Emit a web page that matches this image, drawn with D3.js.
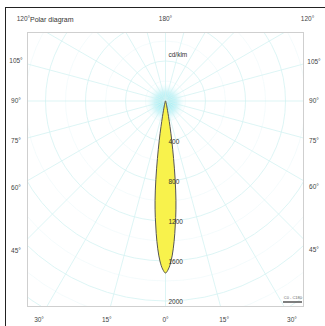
<!DOCTYPE html>
<html><head><meta charset="utf-8">
<script src="https://cdn.jsdelivr.net/npm/d3@7"></script>
<style>html,body{margin:0;padding:0;background:#fff;overflow:hidden}text{font-family:"Liberation Sans",Arial,sans-serif}</style>
</head><body><svg id="c" width="325" height="326"></svg>
<script>
// ---- data ----
const title = "Polar diagram";
const unitLabel = "cd/klm";
const legendLabel = "C0 - C180";
// beam angle (deg from nadir, signed) and luminous intensity (cd/klm)
const beamAngles    = [-180,-90,-60,-45,-30,-20,-16,-14,-12,-11,-10,-9,-8,-7,-6,-5,-4,-3,-2,-1,0,1,2,3,4,5,6,7,8,9,10,11,12,14,16,20,30,45,60,90,180];
const beamIntensity = [0,0,3,5,8,15,30,50,100,160,260,400,580,790,1000,1170,1330,1480,1600,1680,1720,1680,1600,1480,1330,1170,1000,790,580,400,260,160,100,50,30,15,8,5,3,0,0];
const ringValues = [400, 800, 1200, 1600, 2000];
const ringGridValues = [400, 800, 1200, 1600, 2000, 2400, 2800];
const sideAngleTicks = [45, 60, 75, 90, 105, 120];
const bottomAngleTicks = [-30, -15, 0, 15, 30];
const topAngleTicks = [180];

// ---- layout ----
const svg = d3.select("#c");
const cx = 165.5, cy = 101;
const frame = {x0: 27, y0: 32, x1: 303, y1: 306};
const labelBox = {x0: 16, x1: 314, y0: 19, y1: 320};
const r = d3.scaleLinear().domain([0, 2000]).range([0, 200]);
const rad = d => d * Math.PI / 180;

// outer border
svg.append("rect").attr("x", 5.5).attr("y", 7.5).attr("width", 340).attr("height", 340)
  .attr("fill", "#fff").attr("stroke", "#222").attr("stroke-width", 1);

svg.append("clipPath").attr("id", "clip").append("rect")
  .attr("x", frame.x0).attr("y", frame.y0).attr("width", frame.x1 - frame.x0).attr("height", frame.y1 - frame.y0);

const g = svg.append("g").attr("clip-path", "url(#clip)");

// glow near centre
const grad = svg.append("defs").append("radialGradient").attr("id", "glow");
grad.append("stop").attr("offset", "0%").attr("stop-color", "#6fe6f0").attr("stop-opacity", 0.9);
grad.append("stop").attr("offset", "55%").attr("stop-color", "#a8eef4").attr("stop-opacity", 0.6);
grad.append("stop").attr("offset", "100%").attr("stop-color", "#e6fafc").attr("stop-opacity", 0);
g.append("circle").attr("cx", cx).attr("cy", cy + 2).attr("r", 20).attr("fill", "url(#glow)");

// grid circles
g.append("g").selectAll("circle").data(ringGridValues).join("circle")
  .attr("cx", cx).attr("cy", cy).attr("r", d => r(d))
  .attr("fill", "none").attr("stroke", "#d4f3f3").attr("stroke-width", 0.8);
g.append("g").selectAll("circle").data(ringGridValues.map(v => v - 200)).join("circle")
  .attr("cx", cx).attr("cy", cy).attr("r", d => r(d))
  .attr("fill", "none").attr("stroke", "#ecf9fa").attr("stroke-width", 0.6);

// radial lines every 15 deg
g.append("g").selectAll("line").data(d3.range(0, 360, 15)).join("line")
  .attr("x1", cx).attr("y1", cy)
  .attr("x2", d => cx + 400 * Math.sin(rad(d))).attr("y2", d => cy + 400 * Math.cos(rad(d)))
  .attr("stroke", "#d4f3f3").attr("stroke-width", 0.8);

// beam curve
const pts = beamAngles.map((a, i) => [a, beamIntensity[i]]);
const line = d3.lineRadial().angle(d => Math.PI - rad(d[0])).radius(d => r(d[1])).curve(d3.curveCatmullRomClosed);
g.append("path").attr("d", line(pts)).attr("transform", `translate(${cx},${cy})`)
  .attr("fill", "#f8f24c").attr("stroke", "#555").attr("stroke-width", 1);

// frame
svg.append("rect").attr("x", frame.x0 + 0.5).attr("y", frame.y0 + 0.5)
  .attr("width", frame.x1 - frame.x0).attr("height", frame.y1 - frame.y0)
  .attr("fill", "none").attr("stroke", "#cfcfcf").attr("stroke-width", 1);

// ring labels
svg.append("g").selectAll("text").data(ringValues).join("text")
  .attr("x", cx + 3).attr("y", d => cy + r(d) + 2.5)
  .attr("font-size", 6.5).attr("fill", "#333").text(d => d);
svg.append("text").attr("x", cx + 3).attr("y", cy - 44).attr("font-size", 6.5).attr("fill", "#333").text(unitLabel);

// angle labels, placed where the ray meets the label box
function boxPoint(a) {
  const dx = Math.sin(rad(a)), dy = Math.cos(rad(a));
  const ts = [];
  if (dx > 1e-9) ts.push((labelBox.x1 - cx) / dx);
  if (dx < -1e-9) ts.push((labelBox.x0 - cx) / dx);
  if (dy > 1e-9) ts.push((labelBox.y1 - cy) / dy);
  if (dy < -1e-9) ts.push((labelBox.y0 - cy) / dy);
  const t = Math.min(...ts);
  let x = cx + t * dx, y = cy + t * dy;
  x = Math.max(labelBox.x0 - 3, Math.min(labelBox.x1 + 1, x));
  y = Math.max(labelBox.y0, Math.min(labelBox.y1, y));
  return [x, y];
}
const angleLabels = [];
sideAngleTicks.forEach(a => { angleLabels.push(-a); angleLabels.push(a); });
bottomAngleTicks.forEach(a => angleLabels.push(a));
topAngleTicks.forEach(a => angleLabels.push(a));
svg.append("g").selectAll("text").data(angleLabels).join("text")
  .attr("x", d => boxPoint(d)[0]).attr("y", d => boxPoint(d)[1] + 2.3)
  .attr("text-anchor", "middle").attr("font-size", 6.5).attr("fill", "#444")
  .text(d => Math.abs(d) + "°");

// title
svg.append("text").attr("x", 30).attr("y", 21.5).attr("font-size", 7).attr("fill", "#333").text(title);

// legend
svg.append("line").attr("x1", 283).attr("x2", 302).attr("y1", 302).attr("y2", 302)
  .attr("stroke", "#555").attr("stroke-width", 1.5);
svg.append("text").attr("x", 302).attr("y", 299).attr("text-anchor", "end").attr("font-size", 4).attr("fill", "#666").text(legendLabel);
</script></body></html>
